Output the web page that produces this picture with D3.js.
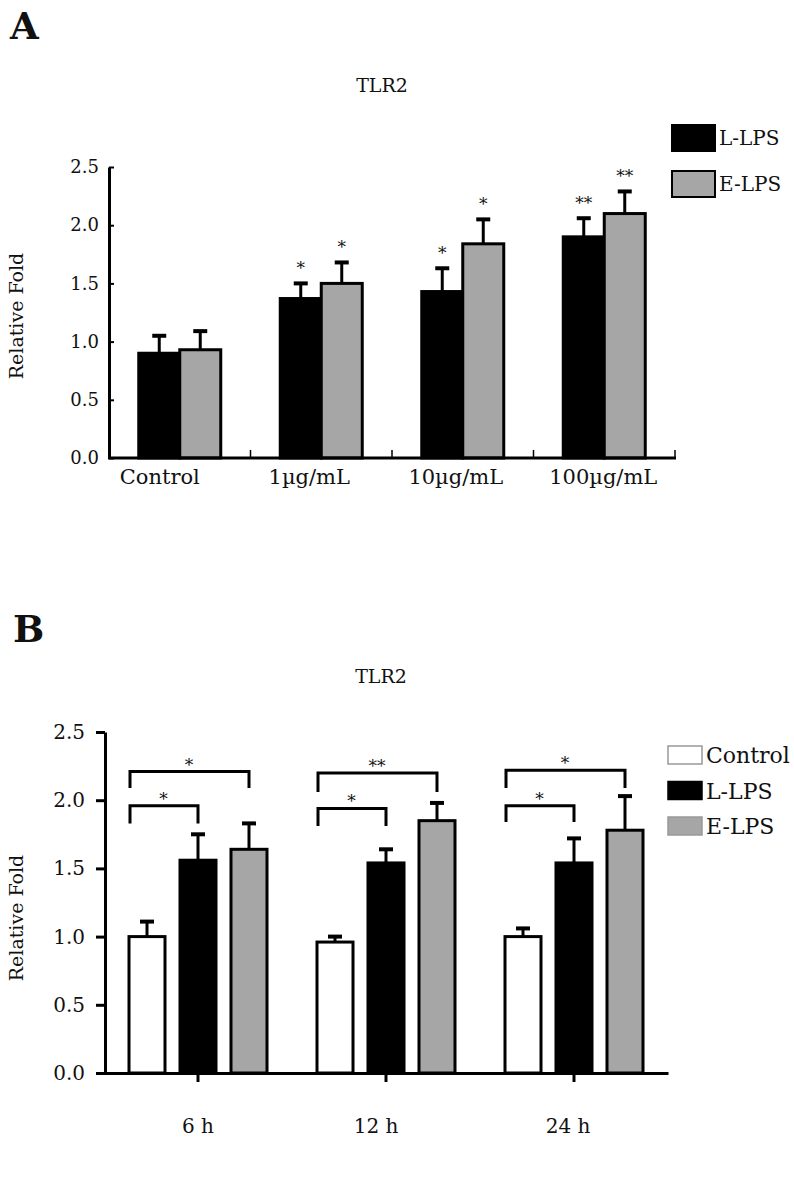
<!DOCTYPE html>
<html>
<head>
<meta charset="utf-8">
<script src="https://cdn.jsdelivr.net/npm/d3@7"></script>
<style>
  body { margin: 0; background: #fff; }
  svg text { font-family: "DejaVu Serif", serif; fill: #111; }
</style>
</head>
<body>
<div id="chart"></div>
<script>
// ---- panel A data (dose) ----
const doseCategories = ["Control", "1µg/mL", "10µg/mL", "100µg/mL"];
const doseSeries = ["L-LPS", "E-LPS"];
const doseL = [0.90, 1.37, 1.43, 1.90];
const doseLErr = [0.15, 0.13, 0.20, 0.16];
const doseE = [0.93, 1.50, 1.84, 2.10];
const doseEErr = [0.16, 0.18, 0.21, 0.19];
const doseLSig = ["", "*", "*", "**"];
const doseESig = ["", "*", "*", "**"];

// ---- panel B data (time) ----
const timeCategories = ["6 h", "12 h", "24 h"];
const timeSeries = ["Control", "L-LPS", "E-LPS"];
const timeControl = [1.00, 0.96, 1.00];
const timeControlErr = [0.11, 0.04, 0.06];
const timeL = [1.56, 1.54, 1.54];
const timeLErr = [0.19, 0.10, 0.18];
const timeE = [1.64, 1.85, 1.78];
const timeEErr = [0.19, 0.13, 0.25];

// significance brackets (from Control to target bar)
const bracketGroup = ["6 h", "6 h", "12 h", "12 h", "24 h", "24 h"];
const bracketTarget = ["L-LPS", "E-LPS", "L-LPS", "E-LPS", "L-LPS", "E-LPS"];
const bracketLevel = [1.96, 2.21, 1.94, 2.20, 1.96, 2.22];
const bracketLeg = [1.83, 2.09, 1.81, 2.06, 1.84, 2.09];
const bracketLabel = ["*", "*", "*", "**", "*", "*"];

const yTicks = [0, 0.5, 1.0, 1.5, 2.0, 2.5];
const colors = {"Control": "#ffffff", "L-LPS": "#000000", "E-LPS": "#a6a6a6"};

const svg = d3.select("#chart").append("svg")
    .attr("width", 794)
    .attr("height", 1186);

// ================= Panel A =================
svg.append("text")
    .attr("x", 10).attr("y", 39)
    .style("font-size", "37px").style("font-weight", "bold")
    .text("A");

svg.append("text")
    .attr("x", 382).attr("y", 92)
    .attr("text-anchor", "middle")
    .style("font-size", "19px")
    .text("TLR2");

const xA = d3.scaleBand()
    .domain(doseCategories)
    .range([109, 675])
    .padding(0);

const xAInner = d3.scaleBand()
    .domain(doseSeries)
    .range([-41, 41])
    .padding(0);

const yA = d3.scaleLinear()
    .domain([0, 2.5])
    .range([458, 167]);

const gA = svg.append("g");

// y axis (ticks pointing in)
const yAxisA = gA.append("g")
    .attr("transform", "translate(109,0)")
    .call(d3.axisLeft(yA).tickValues(yTicks).tickFormat(d3.format(".1f"))
        .tickSizeInner(-5).tickSizeOuter(0).tickPadding(10));
yAxisA.select(".domain").attr("stroke", "#000").attr("stroke-width", 3);
yAxisA.selectAll(".tick line").attr("stroke", "#000").attr("stroke-width", 2);
yAxisA.selectAll(".tick text").style("font-size", "18px").style("font-family", "DejaVu Serif");

svg.append("text")
    .attr("transform", "translate(23,316) rotate(-90)")
    .attr("text-anchor", "middle")
    .style("font-size", "19px")
    .text("Relative Fold");

const dataA = doseCategories.map((c, i) => [
    {cat: c, series: "L-LPS", value: doseL[i], err: doseLErr[i], sig: doseLSig[i]},
    {cat: c, series: "E-LPS", value: doseE[i], err: doseEErr[i], sig: doseESig[i]}
]).flat();

// error bars
gA.selectAll(".errA")
    .data(dataA)
    .enter()
    .append("line")
    .attr("x1", d => xA(d.cat) + xA.bandwidth() / 2 + xAInner(d.series) + xAInner.bandwidth() / 2)
    .attr("x2", d => xA(d.cat) + xA.bandwidth() / 2 + xAInner(d.series) + xAInner.bandwidth() / 2)
    .attr("y1", d => yA(d.value))
    .attr("y2", d => yA(d.value + d.err))
    .attr("stroke", "#000").attr("stroke-width", 3);

gA.selectAll(".capA")
    .data(dataA)
    .enter()
    .append("line")
    .attr("x1", d => xA(d.cat) + xA.bandwidth() / 2 + xAInner(d.series) + xAInner.bandwidth() / 2 - 7)
    .attr("x2", d => xA(d.cat) + xA.bandwidth() / 2 + xAInner(d.series) + xAInner.bandwidth() / 2 + 7)
    .attr("y1", d => yA(d.value + d.err))
    .attr("y2", d => yA(d.value + d.err))
    .attr("stroke", "#000").attr("stroke-width", 4);

gA.selectAll(".barA")
    .data(dataA)
    .enter()
    .append("rect")
    .attr("x", d => xA(d.cat) + xA.bandwidth() / 2 + xAInner(d.series))
    .attr("width", xAInner.bandwidth())
    .attr("y", d => yA(d.value))
    .attr("height", d => yA(0) - yA(d.value))
    .attr("fill", d => colors[d.series])
    .attr("stroke", "#000").attr("stroke-width", 3);

gA.selectAll(".sigA")
    .data(dataA.filter(d => d.sig))
    .enter()
    .append("text")
    .attr("x", d => xA(d.cat) + xA.bandwidth() / 2 + xAInner(d.series) + xAInner.bandwidth() / 2)
    .attr("y", d => yA(d.value + d.err) - 9)
    .attr("text-anchor", "middle")
    .style("font-size", "17px")
    .text(d => d.sig);

// x axis line + boundary ticks pointing up
gA.append("line")
    .attr("x1", 108).attr("x2", xA.range()[1] + 1)
    .attr("y1", yA(0)).attr("y2", yA(0))
    .attr("stroke", "#000").attr("stroke-width", 3);

gA.selectAll(".tickA")
    .data(doseCategories)
    .enter()
    .append("line")
    .attr("x1", d => xA(d) + xA.bandwidth())
    .attr("x2", d => xA(d) + xA.bandwidth())
    .attr("y1", yA(0))
    .attr("y2", yA(0) - 8)
    .attr("stroke", "#000").attr("stroke-width", 1.5);

gA.selectAll(".xlabA")
    .data(doseCategories)
    .enter()
    .append("text")
    .attr("x", (d, i) => xA(d) + xA.bandwidth() / 2 - [20, 12, 7, 1][i])
    .attr("y", 484)
    .attr("text-anchor", "middle")
    .style("font-size", "21px")
    .text(d => d);

// legend A
const legA = gA.selectAll(".legA")
    .data(doseSeries)
    .enter()
    .append("g")
    .attr("transform", (d, i) => `translate(672,${125 + i * 46})`);
legA.append("rect")
    .attr("width", 43).attr("height", 26)
    .attr("fill", d => colors[d])
    .attr("stroke", "#000").attr("stroke-width", 2);
legA.append("text")
    .attr("x", 47).attr("y", 20)
    .style("font-size", "20px")
    .text(d => d);

// ================= Panel B =================
svg.append("text")
    .attr("x", 13).attr("y", 642)
    .style("font-size", "37px").style("font-weight", "bold")
    .text("B");

svg.append("text")
    .attr("x", 381).attr("y", 683)
    .attr("text-anchor", "middle")
    .style("font-size", "19px")
    .text("TLR2");

const xB = d3.scaleBand()
    .domain(timeCategories)
    .range([104, 668])
    .padding(0);

const xBInner = d3.scaleBand()
    .domain(timeSeries)
    .range([-69, 69])
    .paddingInner(0.294)
    .paddingOuter(0);

const yB = d3.scaleLinear()
    .domain([0, 2.5])
    .range([1073, 732]);

const gB = svg.append("g");

const yAxisB = gB.append("g")
    .attr("transform", "translate(105,0)")
    .call(d3.axisLeft(yB).tickValues(yTicks).tickFormat(d3.format(".1f"))
        .tickSizeInner(9).tickSizeOuter(0).tickPadding(11));
yAxisB.select(".domain").attr("stroke", "#000").attr("stroke-width", 3);
yAxisB.selectAll(".tick line").attr("stroke", "#000").attr("stroke-width", 3);
yAxisB.selectAll(".tick text").style("font-size", "20px").style("font-family", "DejaVu Serif");

svg.append("text")
    .attr("transform", "translate(23,918) rotate(-90)")
    .attr("text-anchor", "middle")
    .style("font-size", "19px")
    .text("Relative Fold");

const dataB = timeCategories.map((c, i) => [
    {cat: c, series: "Control", value: timeControl[i], err: timeControlErr[i]},
    {cat: c, series: "L-LPS", value: timeL[i], err: timeLErr[i]},
    {cat: c, series: "E-LPS", value: timeE[i], err: timeEErr[i]}
]).flat();

const barX = (cat, s) => xB(cat) + xB.bandwidth() / 2 + xBInner(s);
const barCx = (cat, s) => barX(cat, s) + xBInner.bandwidth() / 2;

gB.selectAll(".errB")
    .data(dataB)
    .enter()
    .append("line")
    .attr("x1", d => barCx(d.cat, d.series))
    .attr("x2", d => barCx(d.cat, d.series))
    .attr("y1", d => yB(d.value))
    .attr("y2", d => yB(d.value + d.err))
    .attr("stroke", "#000").attr("stroke-width", 3);

gB.selectAll(".capB")
    .data(dataB)
    .enter()
    .append("line")
    .attr("x1", d => barCx(d.cat, d.series) - 7)
    .attr("x2", d => barCx(d.cat, d.series) + 7)
    .attr("y1", d => yB(d.value + d.err))
    .attr("y2", d => yB(d.value + d.err))
    .attr("stroke", "#000").attr("stroke-width", 4);

gB.selectAll(".barB")
    .data(dataB)
    .enter()
    .append("rect")
    .attr("x", d => barX(d.cat, d.series))
    .attr("width", xBInner.bandwidth())
    .attr("y", d => yB(d.value))
    .attr("height", d => yB(0) - yB(d.value))
    .attr("fill", d => colors[d.series])
    .attr("stroke", "#000").attr("stroke-width", 3);

// brackets
const brackets = bracketGroup.map((g, i) => ({
    group: g, target: bracketTarget[i], level: bracketLevel[i],
    leg: bracketLeg[i], label: bracketLabel[i]
}));

gB.selectAll(".bracket")
    .data(brackets)
    .enter()
    .append("path")
    .attr("d", d => {
        const x1 = barX(d.group, "Control") + 1;
        const x2 = barCx(d.group, d.target);
        return `M${x1},${yB(d.leg)}V${yB(d.level)}H${x2}V${yB(d.leg)}`;
    })
    .attr("fill", "none")
    .attr("stroke", "#000").attr("stroke-width", 3);

gB.selectAll(".bracketLabel")
    .data(brackets)
    .enter()
    .append("text")
    .attr("x", d => (barX(d.group, "Control") + barCx(d.group, d.target)) / 2)
    .attr("y", d => yB(d.level) - 1)
    .attr("text-anchor", "middle")
    .style("font-size", "17px")
    .text(d => d.label);

// x axis B
const xAxisB = gB.append("g")
    .attr("transform", `translate(0,${yB(0)})`)
    .call(d3.axisBottom(xB).tickSizeInner(9).tickSizeOuter(0).tickFormat(""));
xAxisB.select(".domain").attr("stroke", "#000").attr("stroke-width", 3);
xAxisB.selectAll(".tick line").attr("stroke", "#000").attr("stroke-width", 3);

gB.selectAll(".xlabB")
    .data(timeCategories)
    .enter()
    .append("text")
    .attr("x", (d, i) => xB(d) + xB.bandwidth() / 2 - [0, 10, 6][i])
    .attr("y", 1133)
    .attr("text-anchor", "middle")
    .style("font-size", "20px")
    .text(d => d);

// legend B
const legB = gB.selectAll(".legB")
    .data(timeSeries)
    .enter()
    .append("g")
    .attr("transform", (d, i) => `translate(668,${746 + i * 35.5})`);
legB.append("rect")
    .attr("width", 34).attr("height", 18)
    .attr("fill", d => colors[d])
    .attr("stroke", d => d === "L-LPS" ? "#000" : "#999")
    .attr("stroke-width", 1.5);
legB.append("text")
    .attr("x", 38).attr("y", 17)
    .style("font-size", "22px")
    .text(d => d);
</script>
</body>
</html>
